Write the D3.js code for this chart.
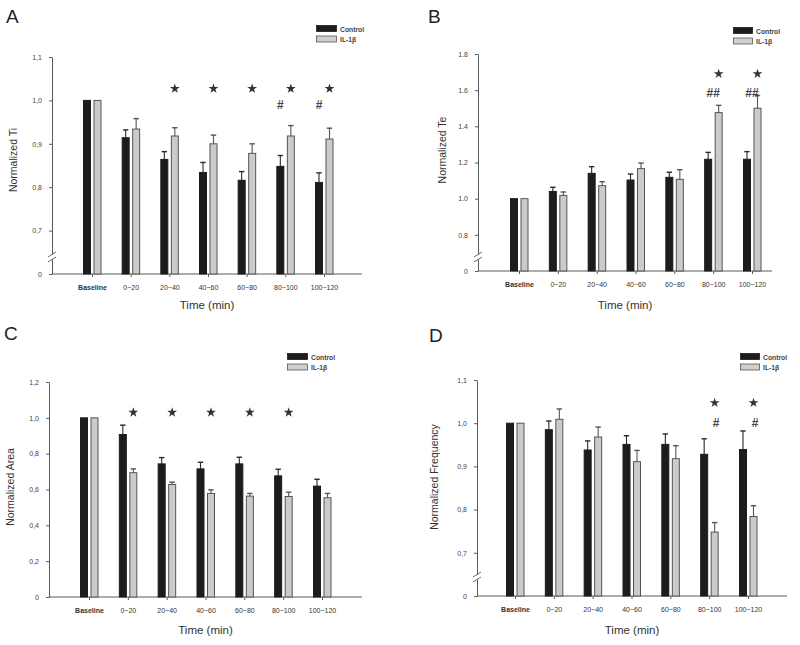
<!DOCTYPE html>
<html><head><meta charset="utf-8">
<script src="https://cdn.jsdelivr.net/npm/d3@7"></script>
<style>
body{margin:0;background:#fff;}
svg{font-family:"Liberation Sans",Arial,sans-serif;}
</style></head>
<body><svg id="c" width="800" height="645"></svg>
<script>
const categories = ["Baseline","0\u221220","20\u221240","40\u221260","60\u221280","80\u2212100","100\u2212120"];
const seriesNames = ["Control","IL-1\u03b2"];

// Panel A: Normalized Ti
const tiControl = [1.0, 0.914, 0.864, 0.834, 0.816, 0.848, 0.811];
const tiControlErr = [0, 0.018, 0.018, 0.023, 0.020, 0.025, 0.022];
const tiIL = [1.0, 0.934, 0.918, 0.900, 0.878, 0.918, 0.911];
const tiILErr = [0, 0.024, 0.019, 0.020, 0.022, 0.024, 0.025];
const tiTicks = [0.6, 0.7, 0.8, 0.9, 1.0, 1.1];
const tiTickLabels = ["0","0,7","0,8","0,9","1,0","1,1"];
const tiStars = ["20\u221240","40\u221260","60\u221280","80\u2212100","100\u2212120"];
const tiHash = ["80\u2212100","100\u2212120"];

// Panel B: Normalized Te
const teControl = [1.0, 1.040, 1.140, 1.103, 1.118, 1.218, 1.218];
const teControlErr = [0, 0.023, 0.037, 0.033, 0.028, 0.038, 0.042];
const teIL = [1.0, 1.018, 1.072, 1.166, 1.107, 1.476, 1.500];
const teILErr = [0, 0.019, 0.022, 0.031, 0.053, 0.040, 0.070];
const teTicks = [0.6, 0.8, 1.0, 1.2, 1.4, 1.6, 1.8];
const teTickLabels = ["0","0.8","1.0","1.2","1.4","1.6","1.8"];
const teStars = ["80\u2212100","100\u2212120"];
const teHash = ["80\u2212100","100\u2212120"];

// Panel C: Normalized Area
const areaControl = [1.0, 0.907, 0.743, 0.715, 0.743, 0.676, 0.619];
const areaControlErr = [0, 0.052, 0.035, 0.037, 0.037, 0.037, 0.038];
const areaIL = [1.0, 0.694, 0.628, 0.578, 0.563, 0.561, 0.554];
const areaILErr = [0, 0.021, 0.013, 0.020, 0.015, 0.024, 0.024];
const areaTicks = [0, 0.2, 0.4, 0.6, 0.8, 1.0, 1.2];
const areaTickLabels = ["0","0,2","0,4","0,6","0,8","1,0","1,2"];
const areaStars = ["0\u221220","20\u221240","40\u221260","60\u221280","80\u2212100"];
const areaHash = [];

// Panel D: Normalized Frequency
const freqControl = [1.0, 0.985, 0.938, 0.951, 0.951, 0.928, 0.939];
const freqControlErr = [0, 0.020, 0.021, 0.020, 0.024, 0.036, 0.043];
const freqIL = [1.0, 1.009, 0.968, 0.911, 0.918, 0.748, 0.784];
const freqILErr = [0, 0.024, 0.023, 0.026, 0.030, 0.022, 0.025];
const freqTicks = [0.6, 0.7, 0.8, 0.9, 1.0, 1.1];
const freqTickLabels = ["0","0,7","0,8","0,9","1,0","1,1"];
const freqStars = ["80\u2212100","100\u2212120"];
const freqHash = ["80\u2212100","100\u2212120"];

const svg = d3.select("#c");

function panel(o){
  const g = svg.append("g");
  const y = d3.scaleLinear().domain(o.domain).range([o.yBottom, o.yTop]);
  const x = d3.scalePoint().domain(categories).range([o.c0, o.c1]);
  const axisCol = "#5a5a5a";
  g.append("text").attr("x", o.letterX).attr("y", o.letterY).attr("font-size", 19).attr("fill","#222").text(o.letter);
  const ya = g.append("g").attr("transform", `translate(${o.axisX},0)`)
    .call(d3.axisLeft(y).tickValues(o.ticks).tickFormat((d,i)=>o.tickLabels[i]).tickSize(3).tickSizeOuter(0));
  ya.select(".domain").attr("stroke", axisCol);
  ya.selectAll(".tick line").attr("stroke", axisCol);
  ya.selectAll(".tick text").attr("font-size", 7).attr("fill","#444").attr("x",-10).attr("font-family","Liberation Sans, Arial, sans-serif");
  const xa = g.append("g").attr("transform", `translate(0,${o.yBottom})`)
    .call(d3.axisBottom(x).tickSize(3).tickSizeOuter(0));
  xa.select(".domain").remove();
  xa.selectAll(".tick line").attr("stroke", axisCol);
  xa.selectAll(".tick text").attr("font-size", 7).attr("fill","#333").attr("y", 11)
    .attr("font-family","Liberation Sans, Arial, sans-serif")
    .attr("font-weight", d => d === "Baseline" ? "bold" : "normal");
  g.append("line").attr("x1", o.axisX).attr("x2", o.xEnd).attr("y1", o.yBottom).attr("y2", o.yBottom).attr("stroke", axisCol);
  if (o.breakY) {
    g.append("rect").attr("x", o.axisX-2).attr("y", o.breakY-2.5).attr("width",4).attr("height",5).attr("fill","#fff");
    [-2.5, 2.5].forEach(dy => g.append("line")
      .attr("x1", o.axisX-4).attr("y1", o.breakY+dy+2.5).attr("x2", o.axisX+4).attr("y2", o.breakY+dy-2.5)
      .attr("stroke", axisCol).attr("stroke-width",0.9));
  }
  const bw = 8;
  const series = [
    {vals:o.control, errs:o.controlErr, dx:-9, fill:"#1c1c1c", stroke:"#1c1c1c", ecol:"#2a2a2a"},
    {vals:o.il, errs:o.ilErr, dx:1.5, fill:"#cbcbcb", stroke:"#555", ecol:"#555"}
  ];
  series.forEach(s => {
    categories.forEach((c,i) => {
      const cx = x(c) + s.dx;
      const v = s.vals[i];
      if (s.errs[i] > 0) {
        const yt = y(v + s.errs[i]);
        g.append("line").attr("x1", cx+bw/2).attr("x2", cx+bw/2).attr("y1", y(v)).attr("y2", yt).attr("stroke", s.ecol).attr("stroke-width",1.1);
        g.append("line").attr("x1", cx+bw/2-2.7).attr("x2", cx+bw/2+2.7).attr("y1", yt).attr("y2", yt).attr("stroke", s.ecol).attr("stroke-width",1.4);
      }
      g.append("rect").attr("x", cx+0.5).attr("y", y(v)).attr("width", bw-1).attr("height", o.yBottom - y(v))
        .attr("fill", s.fill).attr("stroke", s.stroke).attr("stroke-width",1);
    });
  });
  const star = d3.symbol().type(d3.symbolStar).size(30);
  o.stars.forEach(c => {
    g.append("path").attr("d", star()).attr("fill","#333")
      .attr("transform", `translate(${x(c)+1.5+bw/2+o.starDx},${y(o.starLevel)})`);
  });
  o.hash.forEach(c => {
    g.append("text").attr("x", x(c) + o.hashDx).attr("y", y(o.hashLevel)+4.5).attr("text-anchor","middle")
      .attr("font-size", 12).attr("font-weight","bold").attr("fill","#444").text(o.hashText);
  });
  seriesNames.forEach((n,i) => {
    g.append("rect").attr("x", o.legX+0.5).attr("y", o.legY + i*10.5 + 0.5).attr("width", o.legW).attr("height", 6)
      .attr("fill", i===0 ? "#1c1c1c" : "#d0d0d0").attr("stroke", i===0 ? "#1c1c1c" : "#555").attr("stroke-width",0.8);
    g.append("text").attr("x", o.legX + o.legW + 4).attr("y", o.legY + i*10.5 + 6.5).attr("font-size", 6.8)
      .attr("font-weight","bold").attr("fill","#444").text(n);
  });
  g.append("text").attr("x", (o.axisX + o.xEnd)/2 + o.xTitleDx).attr("y", o.xTitleY).attr("text-anchor","middle")
    .attr("font-size", 11.5).attr("fill","#333").text("Time (min)");
  g.append("text").attr("transform", `translate(${o.yTitleX},${o.yTitleY}) rotate(-90)`).attr("text-anchor","middle")
    .attr("font-size", 10.5).attr("fill","#333").text(o.yTitle);
}

panel({letter:"A", letterX:6, letterY:23, domain:[0.6,1.1], yBottom:274, yTop:57, axisX:52, xEnd:362, c0:92, c1:324,
  ticks:tiTicks, tickLabels:tiTickLabels, breakY:257, control:tiControl, controlErr:tiControlErr, il:tiIL, ilErr:tiILErr,
  stars:tiStars, starLevel:1.027, starDx:0, hash:tiHash, hashLevel:0.99, hashDx:-5, hashText:"#",
  legX:316, legY:25, legW:20, xTitleDx:0, xTitleY:309, yTitle:"Normalized Ti", yTitleX:17, yTitleY:160});

panel({letter:"B", letterX:428, letterY:23, domain:[0.6,1.8], yBottom:271, yTop:54, axisX:478, xEnd:772, c0:519, c1:752,
  ticks:teTicks, tickLabels:teTickLabels, breakY:257, control:teControl, controlErr:teControlErr, il:teIL, ilErr:teILErr,
  stars:teStars, starLevel:1.69, starDx:0, hash:teHash, hashLevel:1.585, hashDx:0, hashText:"##",
  legX:733, legY:27, legW:19, xTitleDx:0, xTitleY:309, yTitle:"Normalized Te", yTitleX:446, yTitleY:150});

panel({letter:"C", letterX:4, letterY:340, domain:[0,1.2], yBottom:597, yTop:382, axisX:49, xEnd:362, c0:89, c1:322,
  ticks:areaTicks, tickLabels:areaTickLabels, breakY:null, control:areaControl, controlErr:areaControlErr, il:areaIL, ilErr:areaILErr,
  stars:areaStars, starLevel:1.03, starDx:0, hash:areaHash, hashLevel:1, hashDx:0, hashText:"#",
  legX:287, legY:353, legW:20, xTitleDx:0, xTitleY:634, yTitle:"Normalized Area", yTitleX:14, yTitleY:487});

panel({letter:"D", letterX:429, letterY:342, domain:[0.6,1.1], yBottom:596, yTop:380, axisX:477, xEnd:787, c0:515, c1:748,
  ticks:freqTicks, tickLabels:freqTickLabels, breakY:577, control:freqControl, controlErr:freqControlErr, il:freqIL, ilErr:freqILErr,
  stars:freqStars, starLevel:1.047, starDx:0, hash:freqHash, hashLevel:1.002, hashDx:7, hashText:"#",
  legX:740, legY:353, legW:19, xTitleDx:0, xTitleY:634, yTitle:"Normalized Frequency", yTitleX:438, yTitleY:477});
</script></body></html>
